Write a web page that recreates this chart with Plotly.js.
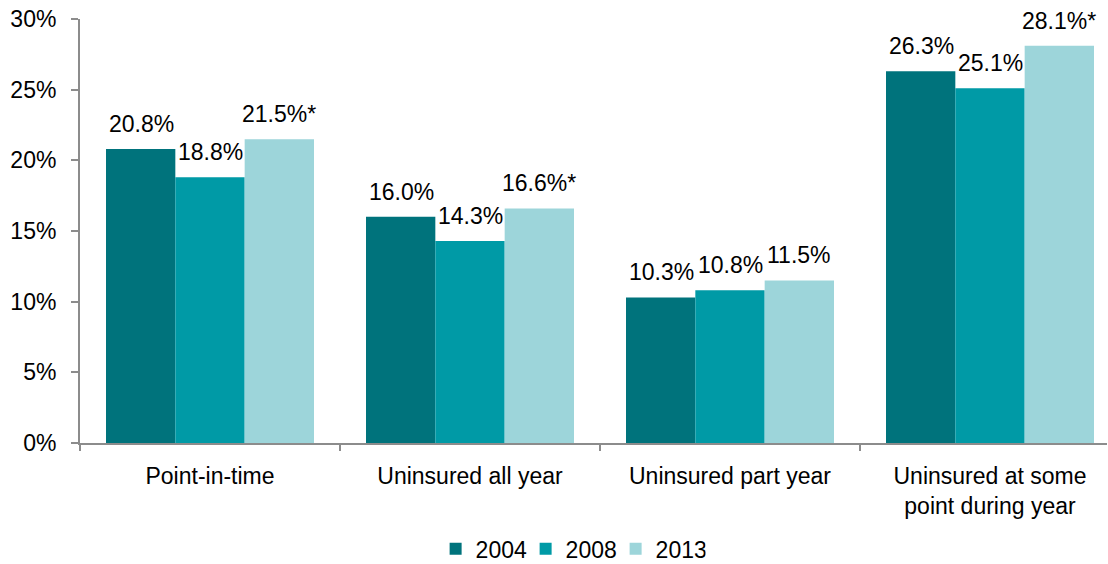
<!DOCTYPE html>
<html>
<head>
<meta charset="utf-8">
<script src="https://cdn.plot.ly/plotly-3.0.1.min.js"></script>
<style>body{margin:0;padding:0;background:#fff;}#chart{width:1108px;height:564px;}</style>
</head>
<body>
<div id="chart"></div>
<script>
var categories = ["Point-in-time", "Uninsured all year", "Uninsured part year", "Uninsured at some<br>point during year"];
var seriesNames = ["2004", "2008", "2013"];
var values2004 = [20.8, 16.0, 10.3, 26.3];
var values2008 = [18.8, 14.3, 10.8, 25.1];
var values2013 = [21.5, 16.6, 11.5, 28.1];
var labels2004 = ["20.8%", "16.0%", "10.3%", "26.3%"];
var labels2008 = ["18.8%", "14.3%", "10.8%", "25.1%"];
var labels2013 = ["21.5%*", "16.6%*", "11.5%", "28.1%*"];
var yTickVals = [0, 5, 10, 15, 20, 25, 30];
var yTickText = ["0%", "5%", "10%", "15%", "20%", "25%", "30%"];
var colors = ["#00737C", "#009AA6", "#9DD5DA"];

var allVals = [values2004, values2008, values2013];
var allLabels = [labels2004, labels2008, labels2013];
var font = "Liberation Sans, Arial, sans-serif";
var FS = 23;

var traces = seriesNames.map(function(name, i){
  return {
    type: "bar",
    name: name,
    x: categories,
    y: allVals[i],
    marker: {color: colors[i], line: {width: 0}},
    hoverinfo: "skip"
  };
});

// bar label annotations, shifted horizontally to each bar of the group
var annotations = [];
var barPx = 69;
seriesNames.forEach(function(name, i){
  categories.forEach(function(c, j){
    annotations.push({
      xref: "x", yref: "y", x: c, y: allVals[i][j],
      text: allLabels[i][j], showarrow: false,
      xanchor: "center", yanchor: "bottom",
      xshift: (i - 1) * barPx, yshift: 10,
      font: {family: font, size: FS, color: "#000"}
    });
  });
});

var layout = {
  width: 1108, height: 564,
  margin: {l: 80, r: 1, t: 19, b: 121, pad: 0},
  paper_bgcolor: "#fff", plot_bgcolor: "#fff",
  barmode: "group",
  bargap: 0.2, bargroupgap: 0,
  font: {family: font, size: FS, color: "#000"},
  showlegend: true,
  annotations: annotations,
  legend: {
    orientation: "h", xref: "container", yref: "container",
    x: 0.515, xanchor: "center", y: 0.027, yanchor: "middle",
    font: {family: font, size: FS, color: "#000"},
    itemwidth: 30, traceorder: "normal",
    entrywidth: 45, entrywidthmode: "pixels"
  },
  xaxis: {
    type: "category",
    range: [-0.5, 3.45],
    showline: true, linecolor: "#8C8C8C", linewidth: 2,
    ticks: "outside", tickson: "boundaries", ticklen: 6, tickcolor: "#8C8C8C", tickwidth: 2,
    ticklabelstandoff: 11,
    tickfont: {family: font, size: FS, color: "#000"},
    showgrid: false, zeroline: false, fixedrange: true
  },
  yaxis: {
    range: [0, 30],
    tickvals: yTickVals, ticktext: yTickText,
    showline: true, linecolor: "#8C8C8C", linewidth: 2,
    ticks: "outside", ticklen: 7, tickcolor: "#8C8C8C", tickwidth: 2,
    ticklabelstandoff: 10,
    tickfont: {family: font, size: FS, color: "#000"},
    showgrid: false, zeroline: false, fixedrange: true
  }
};

Plotly.newPlot("chart", traces, layout, {displayModeBar: false, staticPlot: true});
</script>
</body>
</html>
